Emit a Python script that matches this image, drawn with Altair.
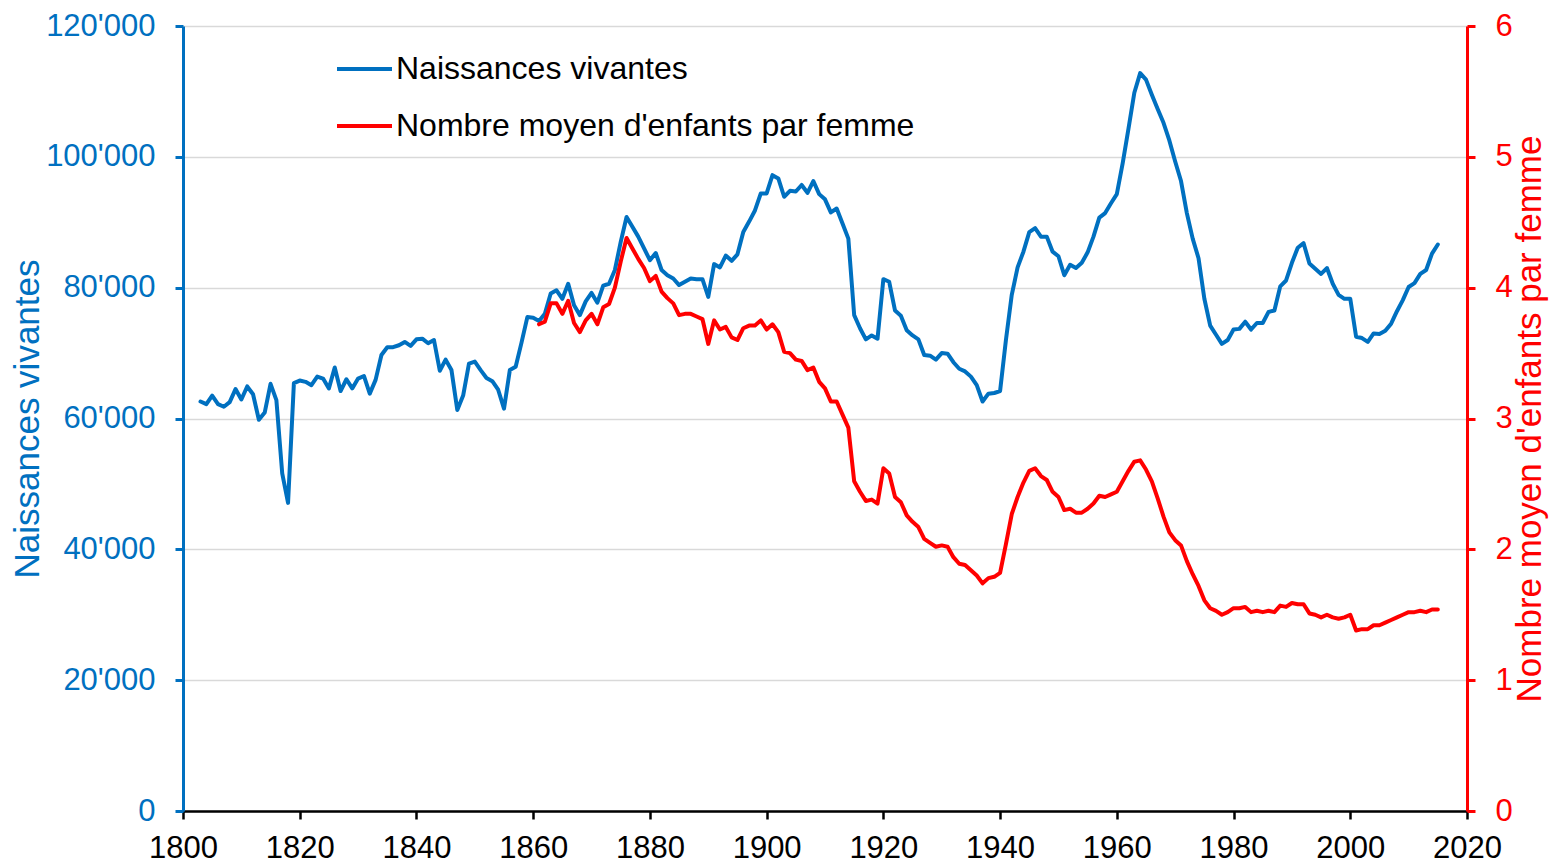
import altair as alt
import pandas as pd

BLUE = "#0070C0"
RED = "#FF0000"
FONT = "Liberation Sans"

# Naissances vivantes (en milliers), 1803-2015
births_years = list(range(1803, 2016))
births_k = [
    62.6, 62.2, 63.5, 62.2, 61.8, 62.5, 64.5,                      # 1803-1809
    62.9, 64.9, 63.7, 59.8, 60.9, 65.3, 62.8, 51.6, 47.1, 65.4,    # 1810-1819
    65.8, 65.6, 65.1, 66.4, 66.1, 64.6, 67.8, 64.2, 66.0, 64.6,    # 1820-1829
    66.1, 66.5, 63.8, 65.9, 69.7, 70.9, 70.9, 71.2, 71.7, 71.1,    # 1830-1839
    72.1, 72.2, 71.5, 72.0, 67.3, 69.0, 67.4, 61.3, 63.5, 68.4,    # 1840-1849
    68.7, 67.4, 66.2, 65.7, 64.4, 61.5, 67.4, 67.9, 71.6, 75.5,    # 1850-1859
    75.4, 74.9, 76.0, 79.1, 79.6, 78.3, 80.6, 77.3, 75.8, 77.9,    # 1860-1869
    79.2, 77.7, 80.3, 80.6, 82.7, 87.0, 90.8, 89.3, 87.8, 86.0,    # 1870-1879
    84.2, 85.3, 82.7, 81.9, 81.4, 80.4, 80.9, 81.4, 81.3, 81.3,    # 1880-1889
    78.6, 83.6, 83.1, 84.9, 84.1, 85.1, 88.5, 90.1, 91.8, 94.4,    # 1890-1899
    94.4, 97.2, 96.7, 93.9, 94.8, 94.7, 95.7, 94.5, 96.3, 94.3,    # 1900-1909
    93.5, 91.5, 92.1, 89.8, 87.5, 75.8, 73.8, 72.1, 72.7, 72.2,    # 1910-1919
    81.3, 80.9, 76.5, 75.7, 73.5, 72.7, 72.1, 69.7, 69.6, 69.0,    # 1920-1929
    70.0, 69.9, 68.6, 67.6, 67.2, 66.4, 65.1, 62.6, 63.8, 63.9,    # 1930-1939
    64.2, 72.0, 78.9, 83.1, 85.5, 88.5, 89.1, 87.8, 87.8, 85.5,    # 1940-1949
    84.8, 81.9, 83.5, 83.0, 83.8, 85.4, 87.8, 90.7, 91.4, 92.9,    # 1950-1959
    94.3, 99.0, 104.3, 109.8, 112.8, 111.8, 109.5, 107.3, 105.2, 102.5,  # 1960-1969
    99.3, 96.3, 91.4, 87.5, 84.5, 78.3, 74.2, 72.8, 71.4, 72.0,    # 1970-1979
    73.6, 73.7, 74.8, 73.6, 74.6, 74.6, 76.3, 76.5, 80.2, 81.1,    # 1980-1989
    83.8, 86.1, 86.8, 83.7, 82.9, 82.1, 83.0, 80.6, 78.9, 78.3,    # 1990-1999
    78.3, 72.5, 72.3, 71.7, 73.0, 72.9, 73.4, 74.5, 76.4, 78.1,    # 2000-2009
    80.1, 80.7, 82.1, 82.7, 85.2, 86.6,                            # 2010-2015
]

# Nombre moyen d'enfants par femme, 1861-2015
tfr_years = list(range(1861, 2016))
tfr = [
    3.72, 3.74, 3.88, 3.88, 3.80, 3.90, 3.73, 3.66, 3.75,          # 1861-1869
    3.80, 3.72, 3.85, 3.875, 4.00, 4.20, 4.38, 4.30, 4.22, 4.15,   # 1870-1879
    4.05, 4.09, 3.97, 3.92, 3.88, 3.79, 3.80, 3.80, 3.78, 3.76,    # 1880-1889
    3.57, 3.75, 3.68, 3.70, 3.62, 3.60, 3.69, 3.71, 3.71, 3.75,    # 1890-1899
    3.68, 3.72, 3.66, 3.51, 3.50, 3.45, 3.44, 3.37, 3.39, 3.28,    # 1900-1909
    3.23, 3.13, 3.13, 3.03, 2.93, 2.52, 2.44, 2.37, 2.38, 2.35,    # 1910-1919
    2.62, 2.58, 2.40, 2.36, 2.26, 2.21, 2.17, 2.08, 2.05, 2.02,    # 1920-1929
    2.03, 2.02, 1.94, 1.89, 1.88, 1.84, 1.80, 1.74, 1.78, 1.79,    # 1930-1939
    1.82, 2.04, 2.27, 2.40, 2.51, 2.60, 2.62, 2.56, 2.53, 2.44,    # 1940-1949
    2.40, 2.30, 2.31, 2.28, 2.28, 2.31, 2.35, 2.41, 2.40, 2.42,    # 1950-1959
    2.44, 2.52, 2.60, 2.67, 2.68, 2.61, 2.52, 2.39, 2.25, 2.13,    # 1960-1969
    2.07, 2.03, 1.91, 1.81, 1.72, 1.61, 1.55, 1.53, 1.50, 1.52,    # 1970-1979
    1.55, 1.55, 1.56, 1.52, 1.53, 1.52, 1.53, 1.52, 1.57, 1.56,    # 1980-1989
    1.59, 1.58, 1.58, 1.51, 1.50, 1.48, 1.50, 1.48, 1.47, 1.48,    # 1990-1999
    1.50, 1.38, 1.39, 1.39, 1.42, 1.42, 1.44, 1.46, 1.48, 1.50,    # 2000-2009
    1.52, 1.52, 1.53, 1.52, 1.54, 1.54,                            # 2010-2015
]

SERIES = ["Naissances vivantes", "Nombre moyen d'enfants par femme"]
x_ticks = list(range(1800, 2021, 20))
left_ticks = list(range(0, 120001, 20000))
right_ticks = list(range(0, 7))

df_births = pd.DataFrame({
    "annee": births_years,
    "valeur": [v * 1000 for v in births_k],
    "serie": SERIES[0],
})
df_tfr = pd.DataFrame({"annee": tfr_years, "valeur": tfr, "serie": SERIES[1]})

x_enc = alt.X(
    "annee:Q",
    scale=alt.Scale(domain=[1800, 2020], nice=False, zero=False),
    axis=alt.Axis(
        values=x_ticks, format="d", title=None, grid=False, labelFlush=False,
        domainColor="black", domainWidth=2.5, tickColor="black", tickWidth=2.5,
        tickSize=8, labelFontSize=31, labelColor="black", labelPadding=14,
        labelFont=FONT,
    ),
)

color_enc = alt.Color(
    "serie:N",
    scale=alt.Scale(domain=SERIES, range=[BLUE, RED]),
    legend=alt.Legend(
        orient="none", legendX=152, legendY=13.5, title=None,
        symbolType="stroke", symbolSize=3025, symbolStrokeWidth=4,
        labelFontSize=32, labelColor="black", labelFont=FONT, labelLimit=0,
        labelOffset=2, rowPadding=11, padding=0,
    ),
)

births_line = alt.Chart(df_births).mark_line(
    strokeWidth=4, strokeJoin="round", strokeCap="round"
).encode(
    x=x_enc,
    y=alt.Y(
        "valeur:Q",
        scale=alt.Scale(domain=[0, 120000], nice=False),
        axis=alt.Axis(
            orient="left", values=left_ticks, labelFlush=False,
            labelExpr="replace(format(datum.value, ',d'), ',', \"'\")",
            title="Naissances vivantes", titleColor=BLUE, titleFontSize=35,
            titleFontWeight="normal", titleFont=FONT, titlePadding=0,
            domainColor=BLUE, domainWidth=3, tickColor=BLUE, tickWidth=3,
            tickSize=8, labelColor=BLUE, labelFontSize=31, labelFont=FONT,
            labelPadding=20, grid=True, gridColor="#D9D9D9", gridWidth=1.5,
        ),
    ),
    color=color_enc,
)

tfr_line = alt.Chart(df_tfr).mark_line(
    strokeWidth=4, strokeJoin="round", strokeCap="round"
).encode(
    x=x_enc,
    y=alt.Y(
        "valeur:Q",
        scale=alt.Scale(domain=[0, 6], nice=False),
        axis=alt.Axis(
            orient="right", values=right_ticks, format="d", labelFlush=False,
            title="Nombre moyen d'enfants par femme", titleColor=RED,
            titleFontSize=35, titleFontWeight="normal", titleFont=FONT,
            titleAngle=270, titleBaseline="top", titlePadding=0,
            domainColor=RED, domainWidth=3, tickColor=RED, tickWidth=3,
            tickSize=8, labelColor=RED, labelFontSize=31, labelFont=FONT,
            labelPadding=20, grid=False,
        ),
    ),
    color=color_enc,
)

chart = alt.layer(births_line, tfr_line).resolve_scale(
    y="independent"
).properties(
    width=1284, height=785,
    autosize=alt.AutoSizeParams(type="none"),
    padding={"left": 175, "top": 18, "right": 84, "bottom": 52},
).configure(font=FONT).configure_view(stroke=None)

chart.save("out.html", embed_options={"renderer": "svg", "actions": False})
